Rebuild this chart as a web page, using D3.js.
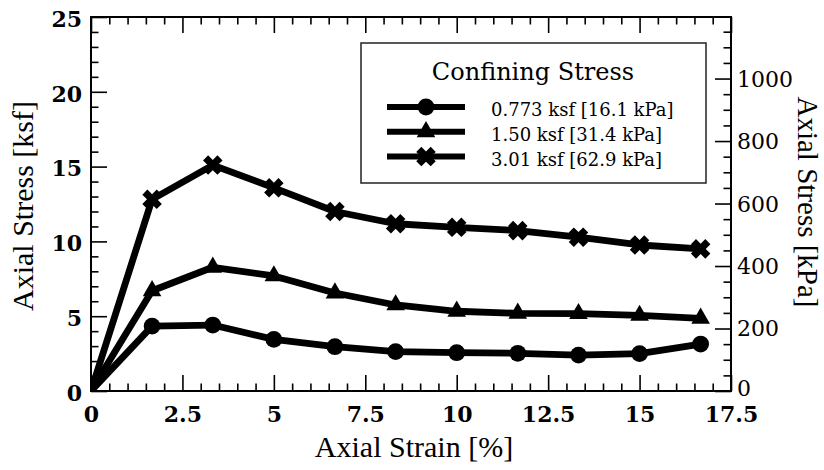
<!DOCTYPE html>
<html>
<head>
<meta charset="utf-8">
<script src="https://cdn.jsdelivr.net/npm/d3@7"></script>
<style>
  html, body { margin: 0; padding: 0; background: #fff; }
  svg { display: block; }
</style>
</head>
<body>
<svg id="chart" width="824" height="470"></svg>
<script>
// ---------------- data ----------------
const strain = [0, 1.67, 3.33, 5, 6.67, 8.33, 10, 11.67, 13.33, 15, 16.67];
const stressLow  = [0, 4.34, 4.41, 3.45, 2.96, 2.63, 2.56, 2.52, 2.40, 2.50, 3.14];
const stressMid  = [0, 6.70, 8.27, 7.69, 6.55, 5.75, 5.33, 5.19, 5.17, 5.05, 4.86];
const stressHigh = [0, 12.81, 15.10, 13.58, 12.00, 11.18, 10.94, 10.72, 10.28, 9.76, 9.50];
const seriesLabels = ["0.773 ksf [16.1 kPa]", "1.50 ksf [31.4 kPa]", "3.01 ksf [62.9 kPa]"];
const seriesMarkers = ["circle", "triangle", "x"];
const legendTitle = "Confining Stress";

const xTicks = [0, 2.5, 5, 7.5, 10, 12.5, 15, 17.5];
const xTickLabels = ["0", "2.5", "5", "7.5", "10", "12.5", "15", "17.5"];
const yTicks = [0, 5, 10, 15, 20, 25];
const yTickLabels = ["0", "5", "10", "15", "20", "25"];
const kpaTicks = [0, 200, 400, 600, 800, 1000];
const kpaTickLabels = ["0", "200", "400", "600", "800", "1000"];
const xTitle = "Axial Strain [%]";
const yTitle = "Axial Stress [ksf]";
const y2Title = "Axial Stress [kPa]";
const KSF_TO_KPA = 47.880;

// ---------------- layout ----------------
const L = 91, R = 731, T = 17, B = 391;
const svg = d3.select("#chart");

const x = d3.scaleLinear().domain([0, 17.5]).range([L, R]);
const y = d3.scaleLinear().domain([0, 25]).range([B, T]);
const y2 = d3.scaleLinear().domain([0, 25 * KSF_TO_KPA]).range([B, T]);

const MAJ = 16, MIN = 7.5;
const xMinor = d3.range(0, 17.5001, 0.5).filter(v => Math.abs(v / 2.5 - Math.round(v / 2.5)) > 1e-6);
const yMinor = d3.range(0, 25.001, 1).filter(v => v % 5 !== 0);
const kpaMinor = d3.range(0, 1150.1, 50).filter(v => v % 200 !== 0);

const numFontL = "'DejaVu Serif', 'Liberation Serif', serif";
const titleFont = "'Liberation Serif', 'Times New Roman', serif";

function styleAxis(g) {
  g.select(".domain").remove();
  g.selectAll(".tick line").attr("stroke", "#000").attr("stroke-width", 1.6);
}

// bottom axis
svg.append("g").attr("transform", `translate(0,${B})`)
  .call(d3.axisBottom(x).tickValues(xTicks).tickSizeInner(-MAJ).tickSizeOuter(0).tickPadding(15)
    .tickFormat((d, i) => xTickLabels[i]))
  .call(styleAxis)
  .call(g => g.selectAll("text").attr("font-family", numFontL).attr("font-weight", "bold")
    .attr("font-size", 22).attr("fill", "#000"));
svg.append("g").attr("transform", `translate(0,${B})`)
  .call(d3.axisBottom(x).tickValues(xMinor).tickSizeInner(-MIN).tickSizeOuter(0).tickFormat(""))
  .call(styleAxis);

// top axis (mirrored ticks)
svg.append("g").attr("transform", `translate(0,${T})`)
  .call(d3.axisTop(x).tickValues(xTicks).tickSizeInner(-MAJ).tickSizeOuter(0).tickFormat(""))
  .call(styleAxis);
svg.append("g").attr("transform", `translate(0,${T})`)
  .call(d3.axisTop(x).tickValues(xMinor).tickSizeInner(-MIN).tickSizeOuter(0).tickFormat(""))
  .call(styleAxis);

// left axis
svg.append("g").attr("transform", `translate(${L},0)`)
  .call(d3.axisLeft(y).tickValues(yTicks).tickSizeInner(-MAJ).tickSizeOuter(0).tickPadding(9)
    .tickFormat((d, i) => yTickLabels[i]))
  .call(styleAxis)
  .call(g => g.selectAll("text").attr("font-family", numFontL).attr("font-weight", "bold")
    .attr("font-size", 22).attr("fill", "#000").attr("dy", "0.42em"));
svg.append("g").attr("transform", `translate(${L},0)`)
  .call(d3.axisLeft(y).tickValues(yMinor).tickSizeInner(-MIN).tickSizeOuter(0).tickFormat(""))
  .call(styleAxis);

// right axis (kPa)
svg.append("g").attr("transform", `translate(${R},0)`)
  .call(d3.axisRight(y2).tickValues(kpaTicks).tickSizeInner(-MAJ).tickSizeOuter(0).tickPadding(6)
    .tickFormat((d, i) => kpaTickLabels[i]))
  .call(styleAxis)
  .call(g => g.selectAll("text").attr("font-family", numFontL)
    .attr("font-size", 22).attr("fill", "#000").attr("dy", d => d === 0 ? "0.2em" : "0.34em"));
svg.append("g").attr("transform", `translate(${R},0)`)
  .call(d3.axisRight(y2).tickValues(kpaMinor).tickSizeInner(-MIN).tickSizeOuter(0).tickFormat(""))
  .call(styleAxis);

// clip
svg.append("defs").append("clipPath").attr("id", "plotclip")
  .append("rect").attr("x", L).attr("y", T).attr("width", R - L).attr("height", B - T);

const plot = svg.append("g").attr("clip-path", "url(#plotclip)");
const allSeries = [stressLow, stressMid, stressHigh];

const line = d3.line().x(d => x(d[0])).y(d => y(d[1]));

function xPath(a, b) {
  // plus shape with half-width a and half-length b, rotated 45deg
  const pts = [[a, -b], [a, -a], [b, -a], [b, a], [a, a], [a, b], [-a, b], [-a, a], [-b, a], [-b, -a], [-a, -a], [-a, -b]];
  const c = Math.SQRT1_2;
  return "M" + pts.map(([px, py]) => [(px - py) * c, (px + py) * c].map(v => v.toFixed(2)).join(",")).join("L") + "Z";
}
const markerPath = {
  circle: d3.symbol(d3.symbolCircle, Math.PI * 8.4 * 8.4)(),
  triangle: d3.symbol(d3.symbolTriangle, 150)(),
  x: xPath(3.6, 10.2)
};

allSeries.forEach((vals, si) => {
  const pts = strain.map((s, i) => [s, vals[i]]);
  plot.append("path").datum(pts).attr("d", line)
    .attr("fill", "none").attr("stroke", "#000").attr("stroke-width", 6.8)
    .attr("stroke-linejoin", "round");
  plot.selectAll(null).data(pts.filter(p => p[0] > 0)).enter().append("path")
    .attr("d", markerPath[seriesMarkers[si]])
    .attr("transform", p => `translate(${x(p[0])},${y(p[1])})`)
    .attr("fill", "#000");
});

// frame
svg.append("rect").attr("x", L).attr("y", T).attr("width", R - L).attr("height", B - T)
  .attr("fill", "none").attr("stroke", "#000").attr("stroke-width", 2);

// axis titles
svg.append("text").attr("x", (L + R) / 2 + 3).attr("y", 457)
  .attr("text-anchor", "middle").attr("font-family", titleFont).attr("font-size", 30)
  .attr("fill", "#000").text(xTitle);
svg.append("text").attr("transform", `translate(33,206) rotate(-90)`)
  .attr("text-anchor", "middle").attr("font-family", titleFont).attr("font-size", 30)
  .attr("fill", "#000").text(yTitle);
svg.append("text").attr("transform", `translate(798,202) rotate(90)`)
  .attr("text-anchor", "middle").attr("font-family", titleFont).attr("font-size", 29)
  .attr("fill", "#000").text(y2Title);

// legend
const lg = svg.append("g");
lg.append("rect").attr("x", 361).attr("y", 43).attr("width", 345).attr("height", 140)
  .attr("fill", "#fff").attr("stroke", "#222").attr("stroke-width", 1.5);
lg.append("text").attr("x", 533).attr("y", 80).attr("text-anchor", "middle")
  .attr("font-family", numFontL).attr("font-size", 24).attr("fill", "#000").text(legendTitle);
seriesLabels.forEach((lab, i) => {
  const ry = 107 + i * 24.8;
  lg.append("line").attr("x1", 387).attr("x2", 465).attr("y1", ry).attr("y2", ry)
    .attr("stroke", "#000").attr("stroke-width", 6);
  lg.append("path").attr("d", markerPath[seriesMarkers[i]])
    .attr("transform", `translate(426,${ry})`).attr("fill", "#000");
  lg.append("text").attr("x", 491).attr("y", ry + 9)
    .attr("font-family", numFontL).attr("font-size", 18).attr("fill", "#000").text(lab);
});
</script>
</body>
</html>
